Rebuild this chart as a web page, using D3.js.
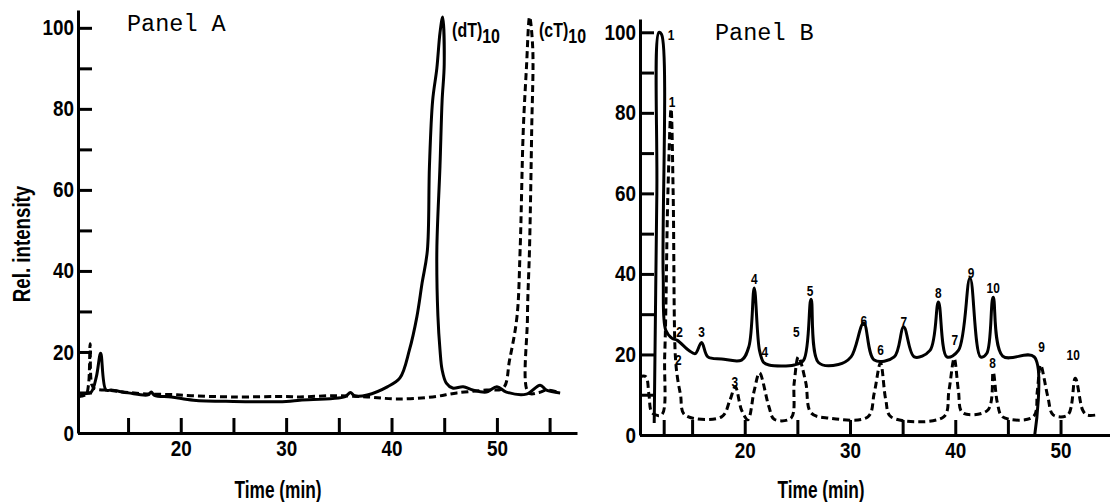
<!DOCTYPE html>
<html>
<head>
<meta charset="utf-8">
<script src="https://d3js.org/d3.v7.min.js"></script>
<style>
  body { margin: 0; background: #fff; }
  svg { display: block; }
  .axis path, .axis line { stroke: #000; stroke-width: 3; }
  .axis text { font-family: "Liberation Sans", Arial, sans-serif; font-weight: bold; font-size: 22px; fill: #000; }
  .lbl { font-family: "Liberation Sans", Arial, sans-serif; font-weight: bold; fill: #000; }
  .title { font-family: "Liberation Mono", "DejaVu Sans Mono", monospace; font-size: 23.5px; fill: #000; }
</style>
</head>
<body>
<svg width="1110" height="502"></svg>
<script>
// ---- data (time in min, relative intensity in %) ----
var yTicks = [0, 10, 20, 30, 40, 50, 60, 70, 80, 90, 100];
var yTickLabels = [0, 20, 40, 60, 80, 100];
var xTickLabels = [20, 30, 40, 50];
var aTicksX = [15, 20, 25, 30, 35, 40, 45, 50, 55];
var bTicksX = [12.3, 15, 20, 25, 30, 35, 40, 45, 50];

// panel A, (dT)10 solid trace
var aSolid = [[10.26,8.9],[10.8,9.6],[11.5,10.1],[12.0,14],[12.4,19.7],[12.9,10.6],[13.4,10.6],[15.0,9.9],[16.9,9.4],
  [17.2,10.1],[17.5,9.3],[19.1,8.9],[21.2,8.1],[25,7.8],[30,7.8],[31.3,8.1],[35.6,9.0],[36.1,10.0],[36.5,9.2],
  [37.7,9.4],[39.6,11.4],[40.8,13.6],[41.7,20.5],[42.4,28.6],[42.9,37],[43.4,45],[43.6,66],[43.9,82],[44.3,90],
  [44.6,98.8],[44.85,102.7],[45.0,91],[44.8,82],[44.6,66],[44.3,45],[44.4,29],[44.6,20.5],[44.8,15.6],[45.2,12.3],
  [45.8,11.1],[46.8,11.4],[47.7,10.6],[49.0,10.1],[50.0,11.4],[50.9,10.1],[52.8,9.6],[54.1,11.8],[54.7,10.6],[56.0,9.9]];
// panel A, (cT)10 dashed trace
var aDashed = [[10.26,9],[11.0,9.5],[11.25,12],[11.4,22],[11.55,12],[11.8,11],[13.4,10.5],[15,10],[17,9.6],[19,9.5],
  [21,9.2],[25,8.9],[30,9],[31.3,8.9],[34.4,9.2],[37.7,8.9],[40.5,8.4],[43.9,8.9],[46.2,9.9],[49.0,10.6],[50.6,11.1],
  [51.2,18],[51.9,28.6],[52.2,45],[52.5,74.6],[52.8,90],[53.1,102.7],[53.4,95],[53.3,74.6],[53.1,46],[52.9,28.6],
  [53.0,9.9],[54.0,10],[54.7,10.6],[56.0,9.9]];
var aNames = [{name: "(dT)", sub: "10", t: 45.75}, {name: "(cT)", sub: "10", t: 54.0}];

// panel B, solid trace
var bSolid = [[11.4,3],[11.65,60],[11.85,100],[12.1,99.5],[12.25,40],[12.5,26],[13.1,24],[13.6,23.5],[14.7,21],[15.3,20.2],
  [15.9,23],[16.5,19.4],[17.8,18.9],[19.7,18.6],[20.4,22],[20.9,36.5],[21.4,21],[21.8,18],[22.3,17.4],[24.7,17.4],
  [25.6,18.6],[26.3,33.7],[27.0,18],[28.9,17.5],[30.1,19.4],[31.3,27.8],[32.3,18.6],[34.2,19.4],[35.1,26.8],[36.1,19.4],
  [37.6,21],[38.4,33],[39.2,19.4],[40.3,21],[41.4,39],[42.4,19.4],[43.0,20.3],[43.6,34.2],[44.5,19.6],[47.5,19.4],[47.55,0]];
// panel B, dashed trace
var bDashed = [[10.0,14.5],[10.6,14.5],[10.9,10],[11.2,5.5],[12.1,5],[12.4,20],[12.7,60],[13.0,81],[13.2,60],[13.4,20],
  [13.6,14.4],[13.9,10],[14.3,5],[17.8,4.5],[18.6,8.7],[19.1,12],[19.7,6.2],[20.3,3.8],[20.9,11],[21.4,15.4],[22.3,7],
  [22.8,3.9],[24.4,4.2],[24.7,13],[25.1,19.4],[25.8,13],[26.3,5.5],[28.0,4.2],[31.7,4.5],[32.3,10.4],[32.9,17.9],
  [33.4,8.7],[33.9,4.5],[38.9,4.5],[39.4,11],[39.9,19],[40.3,11],[40.7,5.5],[43.1,6.2],[43.6,15.6],[44.0,8],[44.5,4.5],
  [47.4,4.5],[47.8,11],[48.1,17.4],[48.8,9.4],[49.3,5],[50.7,5],[51.4,14.1],[52.1,6.2],[52.5,5],[53.5,5]];
// peak numbers: [label, time, intensity]
var bSolidPeaks = [["1",13.0,98],["2",13.8,24.3],["3",15.9,24.3],["4",20.9,37.5],["5",26.2,34.5],["6",31.3,27],
  ["7",35.1,26.8],["8",38.4,34],["9",41.5,39],["10",43.6,35.2]];
var bDashedPeaks = [["1",13.1,81.4],["2",13.7,17.4],["3",19.05,11.9],["4",21.9,19.4],["5",24.9,24.3],["6",32.9,19.9],
  ["7",39.95,22.3],["8",43.55,16.6],["9",48.2,20.6],["10",51.2,18.6]];

var svg = d3.select("svg");

// scales
var xA = d3.scaleLinear().domain([10.25, 57.6]).range([78, 577]);
var yA = d3.scaleLinear().domain([0, 104.4]).range([433, 10]);
var xB = d3.scaleLinear().domain([10.05, 54.7]).range([640, 1110]);
var yB = d3.scaleLinear().domain([0, 103.3]).range([435, 19]);

function drawAxes(x, y, ticksX) {
  svg.append("g").attr("class", "axis")
    .attr("transform", "translate(0," + y(0) + ")")
    .call(d3.axisBottom(x).tickValues(ticksX).tickSize(-15).tickSizeOuter(0).tickPadding(7)
      .tickFormat(function(d) { return xTickLabels.indexOf(d) >= 0 ? d : ""; }));
  svg.append("g").attr("class", "axis")
    .attr("transform", "translate(" + x.range()[0] + ",0)")
    .call(d3.axisLeft(y).tickValues(yTicks).tickSize(-14).tickSizeOuter(0).tickPadding(4)
      .tickFormat(function(d) { return yTickLabels.indexOf(d) >= 0 ? d : ""; }));
}
drawAxes(xA, yA, aTicksX);
drawAxes(xB, yB, bTicksX);
// condensed look for the tick numbers
svg.selectAll(".axis .tick text").attr("textLength", function() {
  var s = d3.select(this).text(); return s.length * 10.5;
}).attr("lengthAdjust", "spacingAndGlyphs");

function trace(data, x, y, dashed) {
  var line = d3.line().x(function(d) { return x(d[0]); }).y(function(d) { return y(d[1]); })
    .curve(d3.curveCatmullRom.alpha(0.5));
  svg.append("path").datum(data)
    .attr("d", line)
    .attr("fill", "none")
    .attr("stroke", "#000")
    .attr("stroke-width", 3)
    .attr("stroke-linejoin", "round")
    .attr("stroke-dasharray", dashed ? "7,4" : null);
}
trace(aSolid, xA, yA, false);
trace(aDashed, xA, yA, true);
trace(bSolid, xB, yB, false);
trace(bDashed, xB, yB, true);

// peak names in panel A
aNames.forEach(function(n) {
  var t = svg.append("text").attr("class", "lbl")
    .attr("transform", "translate(" + xA(n.t) + ",37) scale(0.76,1)")
    .style("font-size", "21px");
  t.append("tspan").text(n.name);
  t.append("tspan").attr("dy", 6).text(n.sub);
});

// peak numbers in panel B
function peakNums(list) {
  svg.selectAll(null).data(list).enter().append("text")
    .attr("class", "lbl")
    .attr("transform", function(d) { return "translate(" + xB(d[1]) + "," + yB(d[2]) + ") scale(0.85,1)"; })
    .attr("text-anchor", "middle")
    .style("font-size", "14px")
    .text(function(d) { return d[0]; });
}
peakNums(bSolidPeaks);
peakNums(bDashedPeaks);

// titles
svg.append("text").attr("class", "title").attr("x", 127).attr("y", 31).text("Panel A");
svg.append("text").attr("class", "title").attr("x", 715).attr("y", 40).text("Panel B");

// axis titles
svg.append("text").attr("class", "lbl")
  .attr("transform", "translate(30,244) rotate(-90) scale(0.78,1)")
  .attr("text-anchor", "middle").style("font-size", "24px")
  .text("Rel. intensity");
svg.append("text").attr("class", "lbl")
  .attr("transform", "translate(278,498) scale(0.72,1)")
  .attr("text-anchor", "middle").style("font-size", "24px").text("Time (min)");
svg.append("text").attr("class", "lbl")
  .attr("transform", "translate(821,498) scale(0.72,1)")
  .attr("text-anchor", "middle").style("font-size", "24px").text("Time (min)");
</script>
</body>
</html>
